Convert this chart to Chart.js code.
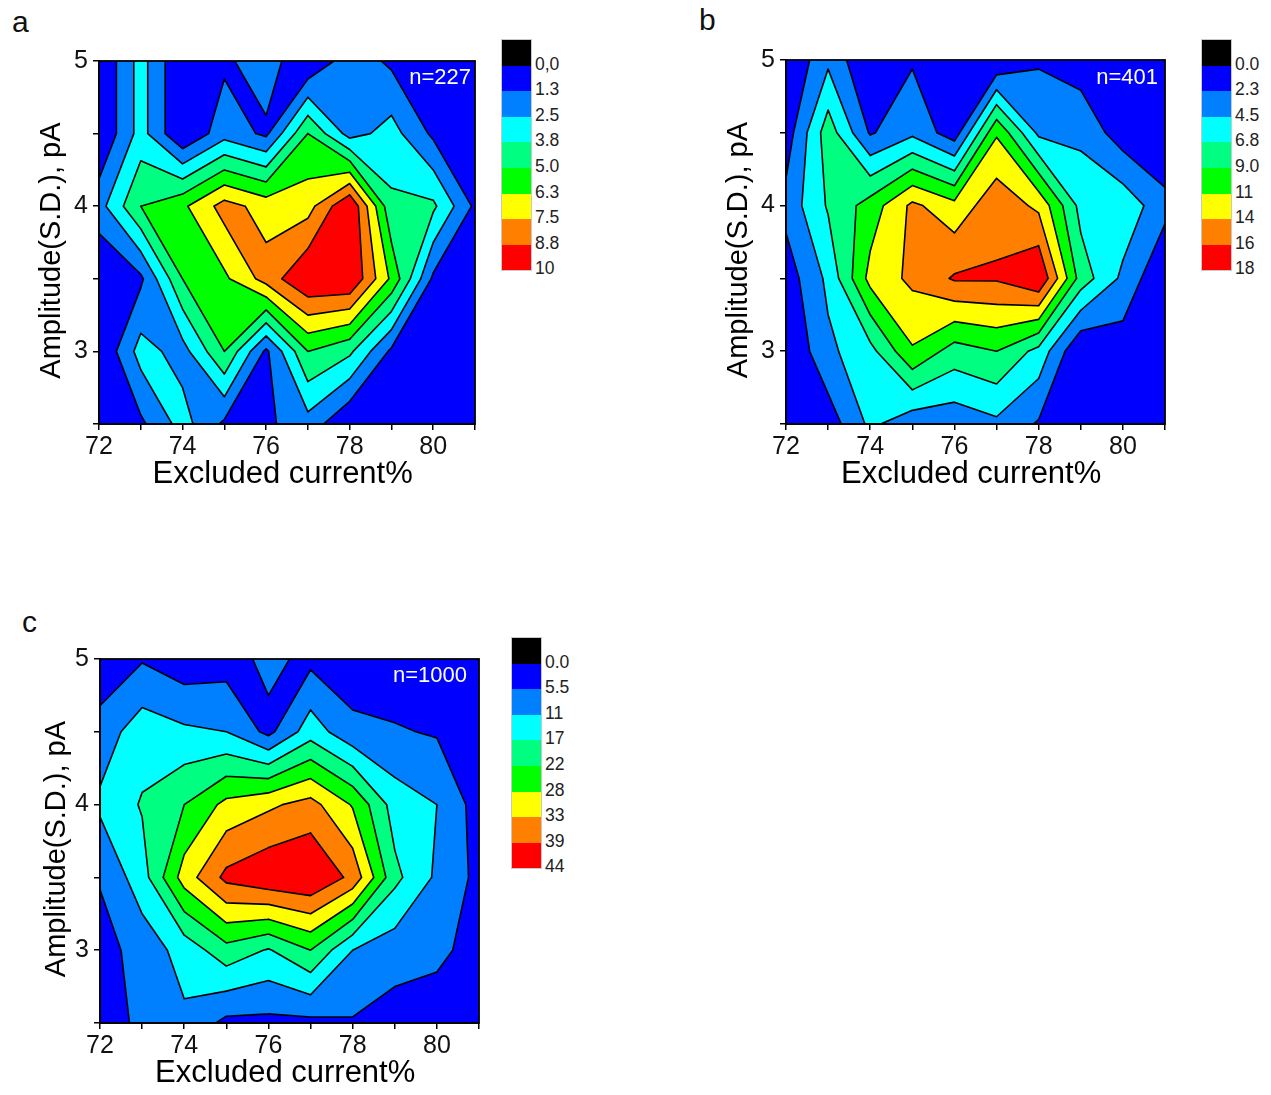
<!DOCTYPE html>
<html>
<head>
<meta charset="utf-8">
<script src="https://cdn.jsdelivr.net/npm/chart.js@4.4.1/dist/chart.umd.min.js"></script>
<style>
  body { margin: 0; width: 1271px; height: 1095px; position: relative; overflow: hidden; background: #fff;
         font-family: "Liberation Sans", Arial, sans-serif; }
  canvas { position: absolute; }
  .letter { position: absolute; font-size: 30px; line-height: 30px; color: #111; }
  .count { position: absolute; font-size: 22px; line-height: 22px; color: #fff; z-index: 2; }
  .cbar { position: absolute; width: 29px; border: 1px solid #c8c8c8; }
  .cbar div { height: 25.6px; }
  .ctick { position: absolute; font-size: 17.5px; line-height: 18px; color: #222; }
</style>
</head>
<body>
<canvas id="chartA" width="485" height="463" style="left:0px;top:41px"></canvas>
<canvas id="chartB" width="488" height="464" style="left:687px;top:40px"></canvas>
<canvas id="chartC" width="488" height="464" style="left:1px;top:639px"></canvas>
<script>
// grid nodes (bin centres)
const xValues = [72, 73, 74, 75, 76, 77, 78, 79, 80, 81];
const yValues = [5, 4.5, 4, 3.5, 3, 2.5];

// event counts per bin, one row per amplitude value (top row = 5 pA)
const countsA = [
  [0, 3, 0, 1, 2, 0, 2, 1, 0, 0],
  [0, 3, 0, 2, 1, 5, 2, 3, 1, 0],
  [2, 5, 6, 8, 7, 7, 10, 4, 4, 1],
  [0, 1, 5, 6, 8, 10, 10, 6, 1, 0],
  [0, 3, 2, 5, 1, 5, 4, 1, 0, 0],
  [0, 1, 3, 1, 1, 2, 0, 0, 0, 0]
];
const countsB = [
  [0, 4, 0, 2, 0, 0, 2, 1, 0, 0],
  [1, 8, 2, 4, 1, 11, 4, 4, 1, 0],
  [3, 7, 10, 14, 12, 15, 13, 6, 6, 3],
  [1, 5, 12, 14, 16, 16, 18, 8, 4, 0],
  [0, 4, 6, 11, 8, 9, 6, 0, 1, 0],
  [0, 1, 5, 3, 3, 4, 2, 0, 0, 0]
];
const countsC = [
  [1, 5, 2, 3, 7, 4, 2, 2, 2, 1],
  [8, 14, 12, 11, 4, 14, 7, 6, 5, 2],
  [12, 17, 22, 29, 32, 35, 27, 14, 11, 3],
  [6, 14, 30, 40, 43, 44, 37, 18, 10, 4],
  [3, 8, 13, 20, 16, 22, 11, 8, 7, 3],
  [2, 7, 10, 4, 4, 4, 5, 3, 2, 1]
];

// contour levels and colour scale labels
const levelsA = [0, 1.25, 2.5, 3.75, 5, 6.25, 7.5, 8.75, 10];
const levelsB = [0, 2.25, 4.5, 6.75, 9, 11.25, 13.5, 15.75, 18];
const levelsC = [0, 5.5, 11, 16.5, 22, 27.5, 33, 38.5, 44];
const scaleLabelsA = ['0,0', '1.3', '2.5', '3.8', '5.0', '6.3', '7.5', '8.8', '10'];
const scaleLabelsB = ['0.0', '2.3', '4.5', '6.8', '9.0', '11', '14', '16', '18'];
const scaleLabelsC = ['0.0', '5.5', '11', '17', '22', '28', '33', '39', '44'];

const eventTotals = ['n=227', 'n=401', 'n=1000'];
const panelLetters = ['a', 'b', 'c'];
const xTitle = 'Excluded current% ';
const yTitle = 'Amplitude(S.D.), pA  ';

const fillColors = ['#000000', '#0000ff', '#0080ff', '#00ffff', '#00ff80', '#00ff00', '#ffff00', '#ff8000', '#ff0000'];
const fontFamily = '"Liberation Sans", Arial, sans-serif';

// part of one grid cell where value >= L, plus the contour segments inside it
function cellPieces(x0, x1, y0, y1, v, L) {
    const P = [[x0, y0], [x1, y0], [x1, y1], [x0, y1]];
    const up = v.map(a => a >= L);
    const cross = i => {
        const j = (i + 1) % 4;
        const t = (L - v[i]) / (v[j] - v[i]);
        return [P[i][0] + t * (P[j][0] - P[i][0]), P[i][1] + t * (P[j][1] - P[i][1])];
    };
    const saddle = up[0] === up[2] && up[1] === up[3] && up[0] !== up[1];
    const polys = [], segs = [];
    let joinHigh = true;
    if (saddle) joinHigh = (v[0] + v[1] + v[2] + v[3]) / 4 < L;
    if (saddle && !joinHigh) {
        for (let i = 0; i < 4; i++) {
            if (!up[i]) continue;
            const a = cross((i + 3) % 4), b = cross(i);
            polys.push([a, P[i], b]);
            segs.push([a, b]);
        }
    } else {
        const poly = [], pts = [];
        for (let i = 0; i < 4; i++) {
            if (up[i]) poly.push(P[i]);
            if (up[i] !== up[(i + 1) % 4]) { poly.push(cross(i)); pts.push(cross(i)); }
        }
        if (poly.length) polys.push(poly);
        if (saddle) {
            for (let i = 0; i < 4; i++) if (!up[i]) segs.push([cross((i + 3) % 4), cross(i)]);
        } else if (pts.length === 2) {
            segs.push(pts);
        }
    }
    return { polys, segs };
}

function forEachCell(counts, L, fn) {
    for (let r = 0; r < yValues.length - 1; r++) {
        for (let c = 0; c < xValues.length - 1; c++) {
            const v = [counts[r + 1][c], counts[r + 1][c + 1], counts[r][c + 1], counts[r][c]];
            fn(cellPieces(xValues[c], xValues[c + 1], yValues[r + 1], yValues[r], v, L));
        }
    }
}

const contourPlugin = {
    id: 'contour',
    beforeDatasetsDraw(chart, args, opts) {
        const { ctx, chartArea: area, scales: { x, y } } = chart;
        const px = p => [x.getPixelForValue(p[0]), y.getPixelForValue(p[1])];
        ctx.save();
        ctx.beginPath();
        ctx.rect(area.left, area.top, area.width, area.height);
        ctx.clip();
        ctx.fillStyle = fillColors[1];
        ctx.fillRect(area.left, area.top, area.width, area.height);
        const levels = opts.levels;
        for (let k = 1; k < levels.length - 1; k++) {
            ctx.beginPath();
            forEachCell(opts.counts, levels[k], pc => {
                pc.polys.forEach(poly => {
                    poly.forEach((p, i) => {
                        const [X, Y] = px(p);
                        if (i === 0) ctx.moveTo(X, Y); else ctx.lineTo(X, Y);
                    });
                    ctx.closePath();
                });
            });
            ctx.fillStyle = fillColors[k + 1];
            ctx.fill();
        }
        ctx.beginPath();
        for (let k = 1; k < levels.length - 1; k++) {
            forEachCell(opts.counts, levels[k], pc => {
                pc.segs.forEach(s => {
                    const [X0, Y0] = px(s[0]), [X1, Y1] = px(s[1]);
                    ctx.moveTo(X0, Y0);
                    ctx.lineTo(X1, Y1);
                });
            });
        }
        ctx.strokeStyle = '#000';
        ctx.lineWidth = 1.6;
        ctx.lineCap = 'round';
        ctx.stroke();
        ctx.restore();
    },
    afterDatasetsDraw(chart) {
        const { ctx, chartArea: area } = chart;
        ctx.save();
        ctx.strokeStyle = '#000';
        ctx.lineWidth = 1.8;
        ctx.strokeRect(area.left, area.top, area.width, area.height);
        ctx.restore();
    }
};

function makePanel(id, counts, levels, yTitleGap) {
    const tickFont = { family: fontFamily, size: 25 };
    return new Chart(document.getElementById(id), {
        type: 'scatter',
        data: { datasets: [] },
        options: {
            responsive: false,
            animation: false,
            layout: { padding: { top: 20, right: 10, left: 0, bottom: 0 } },
            plugins: {
                legend: { display: false },
                tooltip: { enabled: false },
                contour: { counts: counts, levels: levels }
            },
            scales: {
                x: {
                    type: 'linear', min: xValues[0], max: xValues[xValues.length - 1],
                    afterBuildTicks: s => { s.ticks = xValues.map(v => ({ value: v })); },
                    ticks: { autoSkip: false, maxRotation: 0, padding: 2, color: '#111', font: tickFont,
                             callback: v => (v % 2 === 0 ? String(v) : '') },
                    grid: { drawOnChartArea: false, drawTicks: true, tickLength: 6, color: '#000', lineWidth: 1.5 },
                    border: { color: '#000', width: 1.8, z: 1 },
                    title: { display: true, text: xTitle, color: '#000', font: { family: fontFamily, size: 31 },
                             padding: { top: 0, bottom: 11.4 } },
                    afterFit: s => { s.height = 80; }
                },
                y: {
                    type: 'linear', min: yValues[yValues.length - 1], max: yValues[0],
                    afterBuildTicks: s => { s.ticks = yValues.map(v => ({ value: v })); },
                    ticks: { autoSkip: false, padding: 5, color: '#111', font: tickFont,
                             callback: v => (Number.isInteger(v) ? String(v) : '') },
                    grid: { drawOnChartArea: false, drawTicks: true, tickLength: 6, color: '#000', lineWidth: 1.5 },
                    border: { color: '#000', width: 1.8, z: 1 },
                    title: { display: true, text: yTitle, color: '#000', font: { family: fontFamily, size: 29 },
                             padding: { top: yTitleGap, bottom: 0 } },
                    afterFit: s => { s.width = 99; }
                }
            }
        },
        plugins: [contourPlugin]
    });
}

function addColorScale(left, top, labels) {
    const bar = document.createElement('div');
    bar.className = 'cbar';
    bar.style.left = left + 'px';
    bar.style.top = top + 'px';
    fillColors.forEach(c => {
        const d = document.createElement('div');
        d.style.background = c;
        bar.appendChild(d);
    });
    document.body.appendChild(bar);
    labels.forEach((t, i) => {
        const s = document.createElement('div');
        s.className = 'ctick';
        s.textContent = t;
        s.style.left = (left + 34) + 'px';
        s.style.top = (top + 1 + (i + 1) * 25.6 - 2 - 9) + 'px';
        document.body.appendChild(s);
    });
}

function addText(cls, text, left, top, right) {
    const d = document.createElement('div');
    d.className = cls;
    d.textContent = text;
    if (right !== undefined) d.style.right = right + 'px'; else d.style.left = left + 'px';
    d.style.top = top + 'px';
    document.body.appendChild(d);
}

makePanel('chartA', countsA, levelsA, 34.6);
makePanel('chartB', countsB, levelsB, 34.6);
makePanel('chartC', countsC, levelsC, 38.6);

addColorScale(501, 39, scaleLabelsA);
addColorScale(1201, 39, scaleLabelsB);
addColorScale(511, 637, scaleLabelsC);

addText('letter', panelLetters[0], 12, 7);
addText('letter', panelLetters[1], 699, 5);
addText('letter', panelLetters[2], 22, 607);

addText('count', eventTotals[0], 0, 66, 1271 - 471);
addText('count', eventTotals[1], 0, 66, 1271 - 1158);
addText('count', eventTotals[2], 0, 664, 1271 - 467);
</script>
</body>
</html>
